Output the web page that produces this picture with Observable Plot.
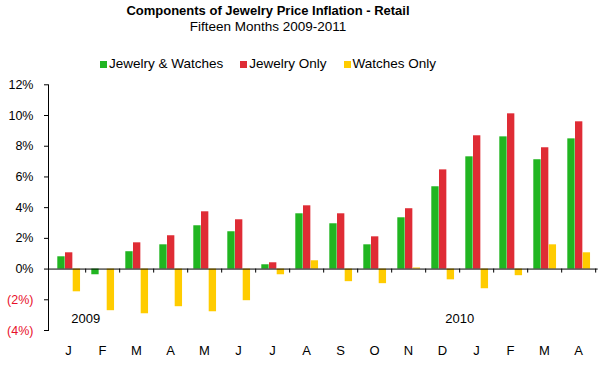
<!DOCTYPE html>
<html>
<head>
<meta charset="utf-8">
<script src="https://cdn.jsdelivr.net/npm/d3@7"></script>
<script src="https://cdn.jsdelivr.net/npm/@observablehq/plot@0.6"></script>
<style>
  body { margin: 0; background: #fff; font-family: "Liberation Sans", Arial, sans-serif; }
  #wrap { width: 607px; }
  #header { position: relative; height: 75px; width: 607px; }
  .line { position: absolute; left: 0; width: 536px; text-align: center; line-height: 16px; white-space: nowrap; color: #000; }
  #title { top: 3px; font-size: 13px; font-weight: bold; }
  #subtitle { top: 19px; font-size: 13.5px; }
  #legend { top: 56px; font-size: 13.5px; }
  .item { display: inline-block; margin: 0 8.5px; }
  .sw { display: inline-block; width: 7px; height: 7px; margin-right: 2px; vertical-align: 0px; }
  svg { display: block; }
</style>
</head>
<body>
<div id="wrap">
  <div id="header">
    <div id="title" class="line">Components of Jewelry Price Inflation - Retail</div>
    <div id="subtitle" class="line">Fifteen Months 2009-2011</div>
    <div id="legend" class="line"></div>
  </div>
  <div id="chart"></div>
</div>
<script>
const months = ["J","F","M","A","M","J","J","A","S","O","N","D","J","F","M","A"];
const jewelryWatches = [0.80,-0.37,1.13,1.58,2.82,2.43,0.28,3.60,2.95,1.58,3.34,5.36,7.31,8.61,7.12,8.48];
const jewelryOnly    = [1.06,0.00,1.71,2.17,3.73,3.21,0.41,4.12,3.60,2.10,3.93,6.46,8.68,10.11,7.90,9.59];
const watchesOnly    = [-1.48,-2.71,-2.91,-2.45,-2.78,-2.06,-0.37,0.54,-0.82,-0.95,0.07,-0.70,-1.28,-0.43,1.58,1.06];
const seriesNames = ["Jewelry & Watches","Jewelry Only","Watches Only"];
const seriesColors = ["#21b521","#df2c35","#ffcc00"];
const yearLabels = [{i: 0, label: "2009"}, {i: 11, label: "2010"}];
const yTicks = [-4,-2,0,2,4,6,8,10,12];

const ids = months.map((_, i) => String(i));
const seriesValues = [jewelryWatches, jewelryOnly, watchesOnly];

// legend
const legend = document.getElementById("legend");
seriesNames.forEach((name, k) => {
  const span = document.createElement("span");
  span.className = "item";
  span.innerHTML = `<span class="sw" style="background:${seriesColors[k]}"></span>${name}`;
  legend.appendChild(span);
});

const width = 607, height = 291;
const marginLeft = 48, marginRight = 9.3, marginTop = 9.3, marginBottom = 36;
const band = (width - marginLeft - marginRight) / months.length;
const barW = 7.7;
const groupStart = 6.3;
const pxPerUnit = (height - marginTop - marginBottom) / 16;
const tickLen = 4 / pxPerUnit;

const barMarks = seriesValues.map((vals, k) => {
  const left = groupStart + k * barW;
  return Plot.barY(ids.map((id, i) => ({id, v: vals[i]})), {
    x: "id", y: "v", fill: seriesColors[k],
    insetLeft: left, insetRight: band - left - barW
  });
});

const chart = Plot.plot({
  width, height, marginLeft, marginRight, marginTop, marginBottom,
  style: {fontFamily: "'Liberation Sans', Arial, sans-serif", fontSize: "12px", color: "#000", background: "#fff"},
  x: {domain: ids, padding: 0, label: null, axis: null},
  y: {domain: [-4, 12], label: null, axis: null},
  marks: [
    ...barMarks,
    Plot.axisY({ticks: yTicks, tickSize: 4, tickPadding: 11, fontSize: 12.5,
      tickFormat: d => d < 0 ? `(${-d}%)` : `${d}%`,
      fill: d => d < 0 ? "#e8102a" : "#000", label: null}),
    Plot.axisX({tickSize: 0, tickPadding: 15, fontSize: 13, tickFormat: (d) => months[+d], label: null}),
    Plot.frame({anchor: "left", stroke: "#000"}),
    Plot.ruleY([0], {stroke: "#000"}),
    Plot.ruleX(ids, {x: d => d, dx: band / 2, y1: 0, y2: -tickLen, stroke: "#000"}),
    Plot.text(yearLabels, {x: d => String(d.i), dx: band / 2, y: -3.25, text: "label", fontSize: 13, fill: "#000"})
  ]
});
document.getElementById("chart").appendChild(chart);
</script>
</body>
</html>
